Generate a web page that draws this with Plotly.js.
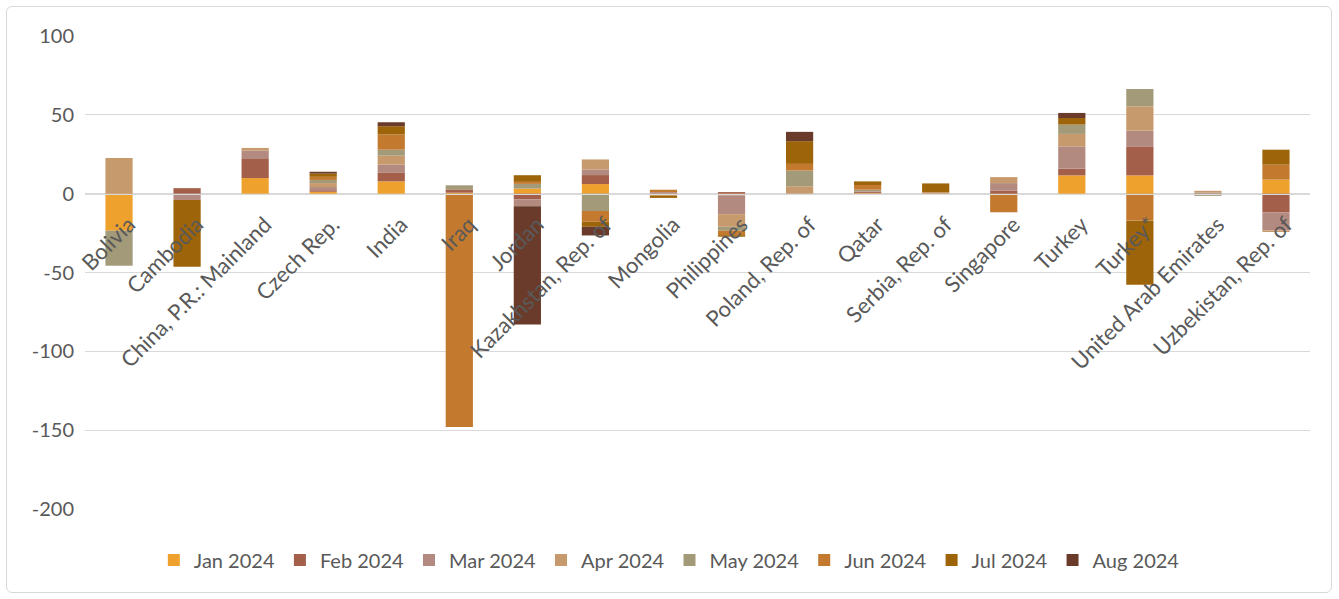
<!DOCTYPE html>
<html>
<head>
<meta charset="utf-8">
<script src="https://cdn.plot.ly/plotly-3.0.1.min.js"></script>
<style>
  html, body { margin: 0; padding: 0; background: #fff; }
  #wrap { position: relative; width: 1339px; height: 599px; }
  #chart { width: 1339px; height: 599px; }
  #frame { position: absolute; left: 6px; top: 6px; width: 1326px; height: 587px;
           border: 1px solid #D9D9D9; border-radius: 6px; pointer-events: none; box-sizing: border-box; }
</style>
</head>
<body>
<div id="wrap">
  <div id="chart"></div>
  <div id="frame"></div>
</div>
<script>
const categories = ["Bolivia", "Cambodia", "China, P.R.: Mainland", "Czech Rep.", "India", "Iraq", "Jordan",
  "Kazakhstan, Rep. of", "Mongolia", "Philippines", "Poland, Rep. of", "Qatar", "Serbia, Rep. of",
  "Singapore", "Turkey", "Turkey*", "United Arab Emirates", "Uzbekistan, Rep. of"];

const seriesNames = ["Jan 2024", "Feb 2024", "Mar 2024", "Apr 2024", "May 2024", "Jun 2024", "Jul 2024", "Aug 2024"];
const seriesColors = ["#EFA12E", "#A35F4A", "#B38A80", "#C69A6C", "#A29A79", "#C47A2E", "#9E6409", "#6A3B2A"];

const yTickValues = [100, 50, 0, -50, -100, -150, -200];
const yTickLabels = ["100", "50", "0", "-50", "-100", "-150", "-200"];

//                Bol    Cam   China  Cz    India Iraq  Jor   Kaz   Mon   Phil  Pol   Qat   Ser   Sing  Tur   Tur*  UAE   Uzb
const jan2024 = [-23.5,  0,    9.9,  1.2,  7.8,  0.6,  3.2,  6.1,  0,   -1.0,  0,    0.3,  0,    0,   11.6, 11.6,  0,    8.9];
const feb2024 = [  0,    3.5, 12.1,  1.0,  5.7,  2.1, -3.6,  5.7,  0,    1.0,  0,    0.7,  0,    2.0,  4.3, 18.4,  0,  -11.8];
const mar2024 = [  0,   -4.0,  5.3,  2.0,  4.9,  0,   -4.4,  3.6,  1.0, -12.0, 0,    0.5,  0,    4.7, 14.1, 10.0,  0.6,-11.5];
const apr2024 = [ 22.7,  0,    1.7,  2.5,  5.7,  0,    0,    6.3, -1.2, -8.0,  4.7,  0,    1.0,  3.8,  7.9, 15.4,  1.2, -1.0];
const may2024 = [-22.2,  0,    0,    2.0,  3.8,  2.6,  3.0,-11.0,  0,   -2.5, 10.0,  1.0,  0,    0,    5.9, 11.0, -1.4,  0];
const jun2024 = [  0,    0,    0,    2.0,  9.6,-148.0, 1.3, -6.8,  1.5, -2.8,  4.2,  3.0,  0,  -11.8,  0,  -17.1,  0,    9.5];
const jul2024 = [  0,  -42.3,  0,    2.0,  5.3,  0,    4.2, -3.2, -1.5, -1.0, 14.4,  2.3,  5.5,  0,    4.2,-40.7,  0,    9.5];
const aug2024 = [  0,    0,    0,    1.2,  2.5,  0,  -75.0, -5.5,  0,    0,    5.9,  0,    0,    0,    3.2,  0,    0,    0];

const seriesValues = [jan2024, feb2024, mar2024, apr2024, may2024, jun2024, jul2024, aug2024];

const traces = seriesNames.map((name, i) => ({
  type: "bar",
  name: name,
  x: categories,
  y: seriesValues[i],
  marker: { color: seriesColors[i] },
  hoverinfo: "x+y+name"
}));

const fontFamily = "Lato, 'Open Sans', 'Liberation Sans', sans-serif";

const layout = {
  width: 1339,
  height: 599,
  margin: { l: 85, r: 29, t: 36, b: 90 },
  paper_bgcolor: "#ffffff",
  plot_bgcolor: "#ffffff",
  barmode: "relative",
  bargap: 0.6,
  font: { family: fontFamily, size: 20, color: "#595959" },
  showlegend: true,
  legend: {
    orientation: "h",
    x: 0.477, xanchor: "center",
    y: -0.108, yanchor: "middle",
    font: { family: fontFamily, size: 20, color: "#595959" },
    itemwidth: 30,
    bgcolor: "rgba(0,0,0,0)",
    traceorder: "normal"
  },
  xaxis: {
    type: "category",
    anchor: "free",
    position: 2/3,
    tickangle: -45,
    ticks: "",
    showgrid: false,
    showline: true,
    linecolor: "#D9D9D9",
    linewidth: 1.5,
    layer: "above traces",
    automargin: false,
    ticklabelstandoff: 8,
    ticklabelshift: 10,
    tickfont: { family: fontFamily, size: 22, color: "#595959" }
  },
  yaxis: {
    range: [-200, 100],
    tickmode: "array",
    tickvals: yTickValues,
    ticktext: yTickLabels,
    showgrid: true,
    gridcolor: "#D9D9D9",
    gridwidth: 1.3,
    zeroline: false,
    showline: false,
    ticks: "",
    ticklabelstandoff: 10,
    automargin: false,
    tickfont: { family: fontFamily, size: 20, color: "#595959" }
  }
};

Plotly.newPlot("chart", traces, layout, { displayModeBar: false, staticPlot: true });
</script>
</body>
</html>
